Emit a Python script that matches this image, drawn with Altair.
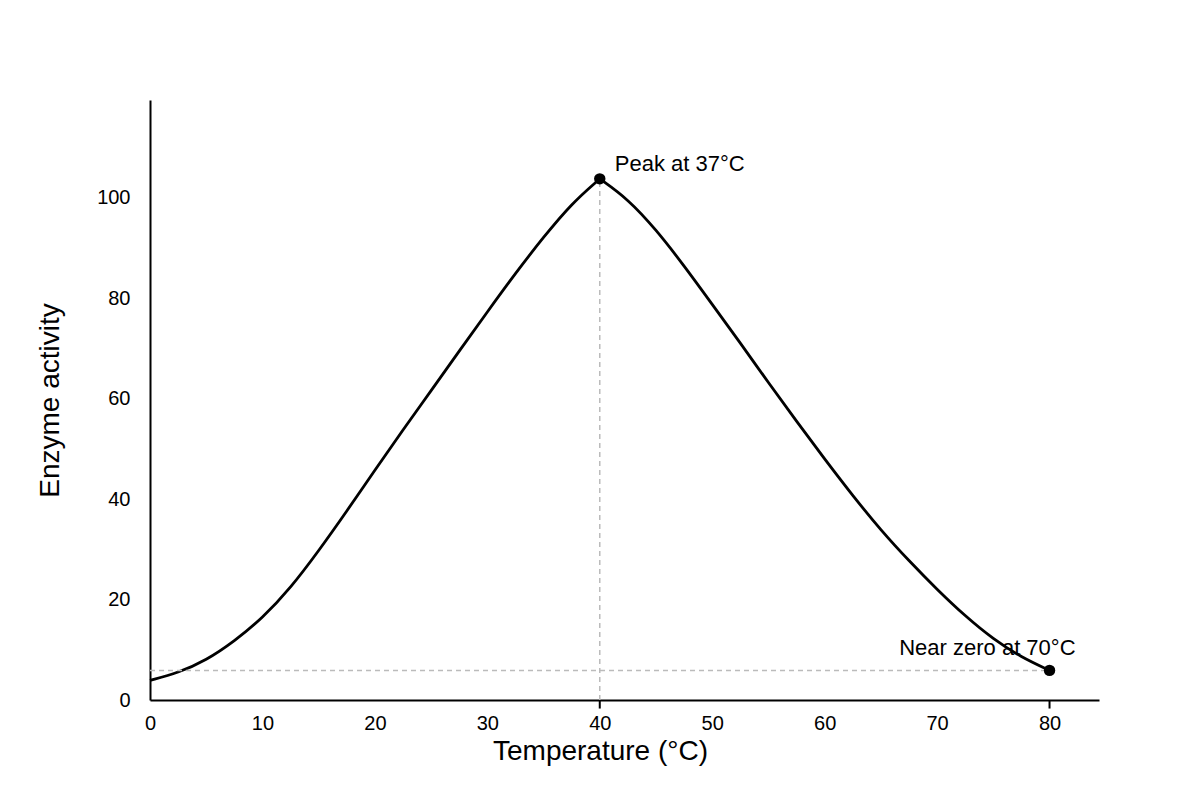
import pandas as pd
import altair as alt

FONT = "Liberation Sans"

# Curve (rising limb and falling limb meet at the peak)
rise_temp = [0, 2.5, 5, 7.5, 10, 12.5, 15, 17.5, 20, 22.5, 25, 27.5, 30, 32.5, 35, 37.5, 40]
rise_activity = [3.9, 5.4, 7.9, 11.7, 16.3, 22.3, 29.7, 37.6, 45.8, 53.8, 61.6, 69.5, 77.3, 85.0, 92.2, 98.9, 103.8]
fall_temp = [40, 42.5, 45, 47.5, 50, 52.5, 55, 57.5, 60, 62.5, 65, 67.5, 70, 72.5, 75, 77.5, 80]
fall_activity = [103.8, 99.8, 93.7, 86.5, 78.8, 71.1, 63.2, 55.5, 48.0, 40.7, 33.8, 27.7, 22.0, 16.7, 12.1, 8.5, 5.9]

# Marked points and their notes
point_temp = [40, 80]
point_activity = [103.8, 5.9]
point_notes = ["Peak at 37°C", "Near zero at 70°C"]

x_labels = [0, 10, 20, 30, 40, 50, 60, 70, 80]
y_labels = [0, 20, 40, 60, 80, 100]

curve = pd.DataFrame({
    "temp": rise_temp + fall_temp,
    "activity": rise_activity + fall_activity,
    "limb": ["rise"] * len(rise_temp) + ["fall"] * len(fall_temp),
})
pts = pd.DataFrame({"temp": point_temp, "activity": point_activity, "note": point_notes})

x_scale = alt.Scale(domain=[0, 84.4], nice=False, zero=False)
y_scale = alt.Scale(domain=[0, 119.5], nice=False)

x_enc = alt.X("temp:Q", scale=x_scale, title="Temperature (°C)",
              axis=alt.Axis(values=x_labels, ticks=False, grid=False, domainColor="black",
                            domainWidth=2, labelFontSize=20, labelColor="black", labelPadding=13,
                            labelFont=FONT, titleFont=FONT, titleFontSize=28, titleFontWeight="normal",
                            titleColor="black", titlePadding=4, titleX=450, titleAlign="center",
                            labelFlush=False))
y_enc = alt.Y("activity:Q", scale=y_scale, title="Enzyme activity",
              axis=alt.Axis(values=y_labels, ticks=False, grid=False, domainColor="black",
                            domainWidth=2, labelFontSize=20, labelColor="black", labelPadding=20,
                            labelFont=FONT, titleFont=FONT, titleFontSize=28, titleFontWeight="normal",
                            titleColor="black", titlePadding=32))

guide_style = dict(color="#bbbbbb", strokeWidth=1.5, strokeDash=[5, 4])

# guide lines: down from the peak, across to the end point
vguide = alt.Chart(pts.iloc[[0]]).transform_calculate(base="0").mark_rule(**guide_style).encode(
    x=alt.X("temp:Q", scale=x_scale), y=alt.Y("base:Q", scale=y_scale), y2="activity:Q")
hguide = alt.Chart(pts.iloc[[1]]).transform_calculate(base="0").mark_rule(**guide_style).encode(
    y=alt.Y("activity:Q", scale=y_scale), x=alt.X("base:Q", scale=x_scale), x2="temp:Q")

line = alt.Chart(curve).mark_line(color="black", strokeWidth=2.8, interpolate="basis").encode(
    x=x_enc, y=y_enc, detail="limb:N")

# short tick marks below the axis, only under the marked points
ticks = alt.Chart(pts).transform_calculate(lo="-1.7", hi="0").mark_rule(
    color="black", strokeWidth=2
).encode(x=alt.X("temp:Q", scale=x_scale), y=alt.Y("lo:Q", scale=y_scale), y2="hi:Q")

dots = alt.Chart(pts).mark_circle(color="black", size=130, opacity=1).encode(
    x=alt.X("temp:Q", scale=x_scale), y=alt.Y("activity:Q", scale=y_scale))

peak_note = alt.Chart(pts.iloc[[0]]).mark_text(
    align="left", baseline="middle", dx=15, dy=-15, fontSize=22, font=FONT, color="black"
).encode(x=alt.X("temp:Q", scale=x_scale), y=alt.Y("activity:Q", scale=y_scale), text="note:N")
zero_note = alt.Chart(pts.iloc[[1]]).mark_text(
    align="right", baseline="middle", dx=26, dy=-22, fontSize=22, font=FONT, color="black"
).encode(x=alt.X("temp:Q", scale=x_scale), y=alt.Y("activity:Q", scale=y_scale), text="note:N")

chart = alt.layer(line, vguide, hguide, ticks, dots, peak_note, zero_note).properties(
    width=949, height=600,
    autosize=alt.AutoSizeParams(type="none"),
    padding={"left": 142, "top": 92, "right": 80, "bottom": 90},
).configure(background="white").configure_view(strokeWidth=0, strokeOpacity=0)

chart.save("out.html", embed_options={"renderer": "svg", "actions": False})
